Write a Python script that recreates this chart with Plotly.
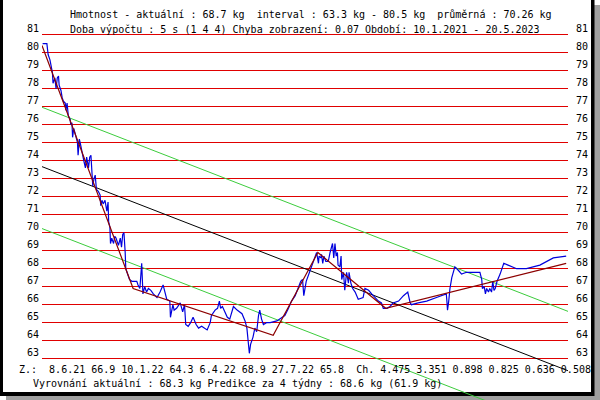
import pandas as pd
import plotly.graph_objects as go

start = pd.Timestamp("2021-01-10")
end = pd.Timestamp("2023-05-20")

# mereni - dny od 10.1.2021 a hmotnost v kg
meas_days = [1, 8, 10, 13, 17, 18, 21, 23, 25, 27,
             28, 31, 33, 35, 38, 39, 41, 43, 46, 47,
             49, 50, 52, 54, 57, 58, 59, 61, 63, 65,
             67, 69, 71, 73, 76, 78, 80, 81, 83, 85,
             87, 89, 92, 95, 96, 98, 100, 103, 106, 108,
             109, 111, 112, 114, 117, 119, 121, 123, 125, 128,
             130, 132, 134, 136, 137, 139, 143, 147, 155, 157,
             160, 163, 165, 168, 171, 174, 178, 182, 188, 193,
             198, 201, 204, 209, 210, 214, 216, 220, 226, 230,
             233, 235, 239, 243, 247, 252, 256, 261, 266, 270,
             275, 277, 283, 287, 290, 292, 295, 299, 303, 307,
             313, 319, 327, 332, 335, 337, 339, 341, 345, 348,
             351, 354, 356, 359, 362, 367, 373, 384, 392, 397,
             403, 408, 414, 419, 423, 426, 428, 432, 435, 439,
             443, 446, 449, 452, 453, 456, 457, 459, 461, 464,
             468, 471, 473, 475, 477, 479, 481, 483, 484, 487,
             489, 490, 493, 495, 498, 501, 502, 505, 508, 512,
             517, 525, 528, 534, 539, 544, 550, 555, 558, 564,
             569, 574, 583, 591, 598, 602, 604, 615, 629, 645,
             661, 662, 663, 665, 667, 670, 672, 675, 681, 686,
             694, 705, 716, 719, 720, 723, 725, 727, 730, 732,
             735, 737, 739, 741, 744, 749, 752, 755, 762, 776,
             784, 792, 814, 836, 857]
meas_kg = [80.5, 80.5, 79.9, 79.6, 78.9, 78.3, 78.6, 78.0, 78.6, 78.7,
           78.2, 77.9, 77.5, 77.3, 77.2, 76.8, 77.2, 76.5, 76.3, 76.0,
           76.1, 75.3, 75.8, 75.5, 75.2, 75.0, 74.3, 75.2, 74.9, 74.5,
           74.3, 73.9, 73.6, 74.2, 73.6, 74.2, 74.3, 73.7, 72.6, 73.0,
           73.2, 72.4, 72.3, 72.1, 71.5, 71.8, 71.6, 71.8, 71.2, 71.7,
           70.6, 70.3, 69.4, 69.7, 69.4, 69.8, 69.7, 69.5, 69.3, 69.7,
           69.2, 69.9, 70.0, 68.9, 68.0, 67.8, 67.4, 67.3, 67.3, 67.1,
           66.9, 68.3, 66.6, 67.0, 66.7, 66.9, 66.8, 66.6, 66.4, 66.7,
           67.1, 66.7, 66.3, 66.2, 65.3, 66.0, 65.7, 65.8, 66.1, 65.6,
           66.0, 64.9, 64.8, 65.0, 65.3, 64.9, 64.7, 64.8, 64.7, 64.6,
           65.0, 65.4, 65.7, 65.8, 66.2, 65.8, 65.9, 65.6, 65.3, 65.2,
           65.9, 65.7, 65.5, 65.1, 64.7, 64.0, 63.3, 63.8, 64.2, 64.7,
           64.5, 65.4, 65.7, 65.2, 64.9, 65.0, 65.0, 65.1, 65.3, 65.4,
           65.8, 66.2, 66.5, 67.0, 67.3, 67.4, 66.5, 67.3, 67.6, 68.0,
           68.3, 68.7, 68.9, 68.3, 68.7, 68.6, 68.8, 68.3, 68.7, 68.4,
           68.4, 68.9, 69.1, 69.4, 68.6, 69.4, 68.7, 68.9, 68.2, 68.1,
           68.7, 67.4, 67.8, 66.8, 67.8, 67.2, 67.8, 67.2, 66.9, 66.7,
           66.3, 66.4, 66.9, 66.8, 66.6, 66.4, 66.2, 66.1, 65.8, 65.8,
           65.9, 66.1, 66.2, 66.5, 66.7, 66.1, 66.0, 66.1, 66.2, 66.4,
           66.6, 66.2, 65.7, 66.2, 66.9, 67.5, 67.8, 68.1, 67.9, 67.7,
           67.8, 67.8, 67.8, 67.4, 66.9, 67.0, 66.6, 66.9, 66.7, 66.9,
           66.7, 67.3, 66.8, 66.9, 67.3, 67.7, 68.0, 68.3, 68.2, 68.0,
           68.0, 68.0, 68.2, 68.6, 68.7]

# vyrovnani (lomena cara)
smooth_days = [0, 149, 378, 451, 562, 857]
smooth_kg = [80.4, 66.9, 64.3, 68.9, 65.8, 68.3]

# linearni trend a pas
reg_days = [0, 860]
reg_kg = [73.67, 62.33]
upper_kg = [76.97, 65.63]
lower_kg = [70.23, 58.89]

grid_kg = list(range(63, 82))

header1 = "Hmotnost - aktuální : 68.7 kg\u00a0\u00a0interval : 63.3 kg - 80.5 kg\u00a0\u00a0průměrná : 70.26 kg"
header2 = "Doba výpočtu : 5 s (1 4 4) Chyba zobrazení: 0.07 Období: 10.1.2021 - 20.5.2023"
footer1 = ("Z.:\u00a0\u00a08.6.21 66.9 10.1.22 64.3 6.4.22 68.9 27.7.22 65.8"
           "\u00a0\u00a0Ch. 4.475 3.351 0.898 0.825 0.636 0.508")
footer2 = "Vyrovnání aktuální : 68.3 kg Predikce za 4 týdny : 68.6 kg (61.9 kg)"

FONT = "DejaVu Sans Mono"
L, R = 42, 32


def dates(d):
    return start + pd.to_timedelta(d, unit="D")


def px(p):
    return (p - L) / (600 - L - R)


def py(p):
    return (400 - p) / 400


fig = go.Figure()
fig.add_scatter(x=dates(reg_days), y=reg_kg, mode="lines",
                line=dict(color="black", width=1))
fig.add_scatter(x=dates(reg_days), y=upper_kg, mode="lines",
                line=dict(color="#3ccc3c", width=1))
fig.add_scatter(x=dates(reg_days), y=lower_kg, mode="lines",
                line=dict(color="#3ccc3c", width=1))
fig.add_scatter(x=dates(meas_days), y=meas_kg, mode="lines",
                line=dict(color="#0000dd", width=1.2))
fig.add_scatter(x=dates(smooth_days), y=smooth_kg, mode="lines",
                line=dict(color="#8c0000", width=1.2))

# ramecek se stinem
fig.add_shape(type="rect", xref="paper", yref="paper", layer="below",
              x0=px(6), x1=px(605), y0=py(405), y1=py(5),
              fillcolor="#a0a0a0", line_width=0)
fig.add_shape(type="rect", xref="paper", yref="paper", layer="below",
              x0=px(-5), x1=px(594.5), y0=py(396), y1=py(-5),
              fillcolor="black", line_width=0)
fig.add_shape(type="rect", xref="paper", yref="paper", layer="below",
              x0=px(3), x1=px(591), y0=py(392), y1=py(-5),
              fillcolor="white", line_width=0)

for v in grid_kg:
    fig.add_annotation(x=px(41), xref="paper", y=v, yref="y", yshift=6,
                       text=str(v), showarrow=False, xanchor="right", yanchor="middle")
    fig.add_annotation(x=px(574), xref="paper", y=v, yref="y", yshift=6,
                       text=str(v), showarrow=False, xanchor="left", yanchor="middle")

for txt, xl, yc in [(header1, 68, 14.5), (header2, 68, 30),
                    (footer1, 17, 369.5), (footer2, 30.5, 383.5)]:
    fig.add_annotation(x=px(xl), xref="paper", y=py(yc), yref="paper", text=txt,
                       showarrow=False, xanchor="left", yanchor="middle")

fig.update_layout(
    width=600, height=400,
    margin=dict(l=L, r=R, t=0, b=0),
    paper_bgcolor="rgba(0,0,0,0)", plot_bgcolor="rgba(0,0,0,0)",
    showlegend=False,
    font=dict(family=FONT, size=10, color="black"),
)
fig.update_xaxes(range=[start, end], showticklabels=False, showgrid=False,
                 zeroline=False, showline=False, ticks="")
fig.update_yaxes(range=[81 - 365.3 / 18, 81 + 34.7 / 18], tickvals=grid_kg,
                 showticklabels=False, showgrid=True, gridcolor="#e00000", gridwidth=1,
                 zeroline=False, showline=False, ticks="")

fig.write_html("out.html", config={"displayModeBar": False},
               post_script="document.body.style.margin='0';")
